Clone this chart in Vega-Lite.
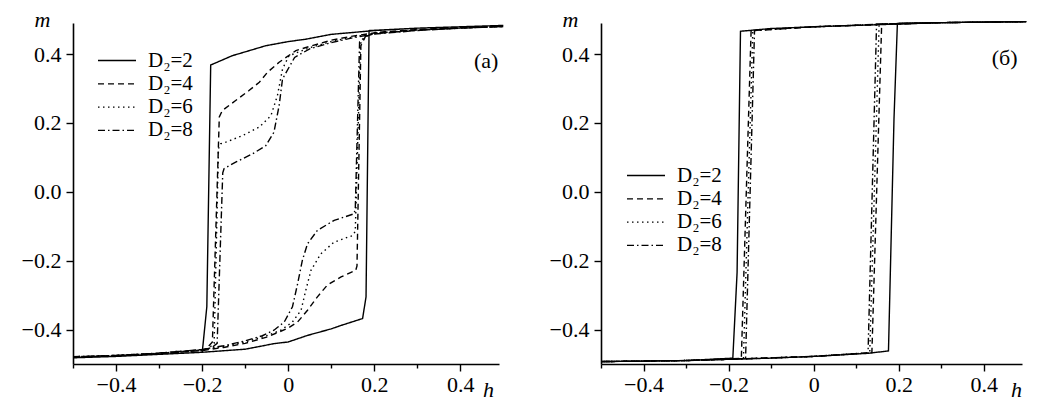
{
  "$schema": "https://vega.github.io/schema/vega-lite/v6.json",
  "background": "white",
  "padding": {"left": 21, "top": 8, "right": 5, "bottom": 5},
  "config": {
    "view": {"stroke": null},
    "font": "Liberation Serif",
    "axis": {
      "domainColor": "black", "domainWidth": 1.6, "tickColor": "black", "tickWidth": 1.4,
      "labelColor": "black", "labelFontSize": 22, "labelFont": "Liberation Serif",
      "titleColor": "black", "titleFont": "Liberation Serif", "titleFontSize": 22,
      "titleFontStyle": "italic", "titleFontWeight": "normal", "grid": false,
      "labelOverlap": false, "labelFlush": false
    },
    "legend": {
      "orient": "none", "title": null, "padding": 0,
      "symbolType": "M-1,0H3", "symbolSize": 361, "symbolStrokeWidth": 1.3,
      "symbolStrokeColor": "black", "labelFontSize": 21, "labelFont": "Liberation Serif",
      "labelColor": "black", "labelOffset": 30, "rowPadding": 1.3
    }
  },
  "datasets": {
    "a": [
      {"s":"D₂=2","i":0,"h":-0.5,"m":-0.482},{"s":"D₂=2","i":1,"h":-0.4,"m":-0.478},{"s":"D₂=2","i":2,"h":-0.3,"m":-0.472},{"s":"D₂=2","i":3,"h":-0.2,"m":-0.466},{"s":"D₂=2","i":4,"h":-0.1,"m":-0.457},{"s":"D₂=2","i":5,"h":-0.033,"m":-0.441},{"s":"D₂=2","i":6,"h":0,"m":-0.436},{"s":"D₂=2","i":7,"h":0.045,"m":-0.417},{"s":"D₂=2","i":8,"h":0.1,"m":-0.398},{"s":"D₂=2","i":9,"h":0.123,"m":-0.388},{"s":"D₂=2","i":10,"h":0.173,"m":-0.368},{"s":"D₂=2","i":11,"h":0.181,"m":-0.305},{"s":"D₂=2","i":12,"h":0.188,"m":0.468},{"s":"D₂=2","i":13,"h":0.3,"m":0.475},{"s":"D₂=2","i":14,"h":0.4,"m":0.479},{"s":"D₂=2","i":15,"h":0.5,"m":0.483},
      {"s":"D₂=2","i":16,"h":0.4,"m":0.479},{"s":"D₂=2","i":17,"h":0.3,"m":0.475},{"s":"D₂=2","i":18,"h":0.2,"m":0.468},{"s":"D₂=2","i":19,"h":0.1,"m":0.457},{"s":"D₂=2","i":20,"h":0.041,"m":0.443},{"s":"D₂=2","i":21,"h":0,"m":0.436},{"s":"D₂=2","i":22,"h":-0.052,"m":0.424},{"s":"D₂=2","i":23,"h":-0.13,"m":0.395},{"s":"D₂=2","i":24,"h":-0.18,"m":0.368},{"s":"D₂=2","i":25,"h":-0.189,"m":-0.334},{"s":"D₂=2","i":26,"h":-0.198,"m":-0.446},{"s":"D₂=2","i":27,"h":-0.2,"m":-0.466},{"s":"D₂=2","i":28,"h":-0.3,"m":-0.472},{"s":"D₂=2","i":29,"h":-0.4,"m":-0.478},{"s":"D₂=2","i":30,"h":-0.5,"m":-0.482},

      {"s":"D₂=4","i":0,"h":-0.5,"m":-0.48},{"s":"D₂=4","i":1,"h":-0.4,"m":-0.476},{"s":"D₂=4","i":2,"h":-0.3,"m":-0.47},{"s":"D₂=4","i":3,"h":-0.2,"m":-0.461},{"s":"D₂=4","i":4,"h":-0.15,"m":-0.452},{"s":"D₂=4","i":5,"h":-0.1,"m":-0.44},{"s":"D₂=4","i":6,"h":-0.05,"m":-0.422},{"s":"D₂=4","i":7,"h":-0.002,"m":-0.397},{"s":"D₂=4","i":8,"h":0.022,"m":-0.378},{"s":"D₂=4","i":9,"h":0.045,"m":-0.344},{"s":"D₂=4","i":10,"h":0.068,"m":-0.305},{"s":"D₂=4","i":11,"h":0.091,"m":-0.271},{"s":"D₂=4","i":12,"h":0.123,"m":-0.247},{"s":"D₂=4","i":13,"h":0.157,"m":-0.228},{"s":"D₂=4","i":14,"h":0.16,"m":-0.215},{"s":"D₂=4","i":15,"h":0.169,"m":0.424},{"s":"D₂=4","i":16,"h":0.18,"m":0.452},{"s":"D₂=4","i":17,"h":0.2,"m":0.462},{"s":"D₂=4","i":18,"h":0.3,"m":0.471},{"s":"D₂=4","i":19,"h":0.4,"m":0.476},{"s":"D₂=4","i":20,"h":0.5,"m":0.48},
      {"s":"D₂=4","i":21,"h":0.4,"m":0.476},{"s":"D₂=4","i":22,"h":0.3,"m":0.47},{"s":"D₂=4","i":23,"h":0.2,"m":0.461},{"s":"D₂=4","i":24,"h":0.15,"m":0.452},{"s":"D₂=4","i":25,"h":0.1,"m":0.44},{"s":"D₂=4","i":26,"h":0.05,"m":0.422},{"s":"D₂=4","i":27,"h":0.018,"m":0.41},{"s":"D₂=4","i":28,"h":-0.021,"m":0.376},{"s":"D₂=4","i":29,"h":-0.048,"m":0.347},{"s":"D₂=4","i":30,"h":-0.067,"m":0.318},{"s":"D₂=4","i":31,"h":-0.091,"m":0.294},{"s":"D₂=4","i":32,"h":-0.122,"m":0.265},{"s":"D₂=4","i":33,"h":-0.153,"m":0.236},{"s":"D₂=4","i":34,"h":-0.16,"m":0.217},{"s":"D₂=4","i":35,"h":-0.176,"m":-0.436},{"s":"D₂=4","i":36,"h":-0.19,"m":-0.455},{"s":"D₂=4","i":37,"h":-0.2,"m":-0.461},{"s":"D₂=4","i":38,"h":-0.3,"m":-0.47},{"s":"D₂=4","i":39,"h":-0.4,"m":-0.476},{"s":"D₂=4","i":40,"h":-0.5,"m":-0.48},

      {"s":"D₂=6","i":0,"h":-0.5,"m":-0.479},{"s":"D₂=6","i":1,"h":-0.4,"m":-0.475},{"s":"D₂=6","i":2,"h":-0.3,"m":-0.469},{"s":"D₂=6","i":3,"h":-0.2,"m":-0.459},{"s":"D₂=6","i":4,"h":-0.15,"m":-0.449},{"s":"D₂=6","i":5,"h":-0.1,"m":-0.436},{"s":"D₂=6","i":6,"h":-0.05,"m":-0.418},{"s":"D₂=6","i":7,"h":-0.017,"m":-0.402},{"s":"D₂=6","i":8,"h":0.01,"m":-0.378},{"s":"D₂=6","i":9,"h":0.03,"m":-0.344},{"s":"D₂=6","i":10,"h":0.041,"m":-0.286},{"s":"D₂=6","i":11,"h":0.053,"m":-0.228},{"s":"D₂=6","i":12,"h":0.076,"m":-0.18},{"s":"D₂=6","i":13,"h":0.107,"m":-0.146},{"s":"D₂=6","i":14,"h":0.15,"m":-0.127},{"s":"D₂=6","i":15,"h":0.156,"m":-0.115},{"s":"D₂=6","i":16,"h":0.168,"m":0.43},{"s":"D₂=6","i":17,"h":0.18,"m":0.451},{"s":"D₂=6","i":18,"h":0.2,"m":0.46},{"s":"D₂=6","i":19,"h":0.3,"m":0.47},{"s":"D₂=6","i":20,"h":0.4,"m":0.476},{"s":"D₂=6","i":21,"h":0.5,"m":0.48},
      {"s":"D₂=6","i":22,"h":0.4,"m":0.475},{"s":"D₂=6","i":23,"h":0.3,"m":0.469},{"s":"D₂=6","i":24,"h":0.2,"m":0.459},{"s":"D₂=6","i":25,"h":0.15,"m":0.449},{"s":"D₂=6","i":26,"h":0.1,"m":0.436},{"s":"D₂=6","i":27,"h":0.05,"m":0.418},{"s":"D₂=6","i":28,"h":0.002,"m":0.395},{"s":"D₂=6","i":29,"h":-0.013,"m":0.357},{"s":"D₂=6","i":30,"h":-0.025,"m":0.279},{"s":"D₂=6","i":31,"h":-0.04,"m":0.221},{"s":"D₂=6","i":32,"h":-0.067,"m":0.188},{"s":"D₂=6","i":33,"h":-0.106,"m":0.163},{"s":"D₂=6","i":34,"h":-0.145,"m":0.144},{"s":"D₂=6","i":35,"h":-0.157,"m":0.139},{"s":"D₂=6","i":36,"h":-0.162,"m":0.125},{"s":"D₂=6","i":37,"h":-0.172,"m":-0.44},{"s":"D₂=6","i":38,"h":-0.185,"m":-0.455},{"s":"D₂=6","i":39,"h":-0.2,"m":-0.459},{"s":"D₂=6","i":40,"h":-0.3,"m":-0.469},{"s":"D₂=6","i":41,"h":-0.4,"m":-0.475},{"s":"D₂=6","i":42,"h":-0.5,"m":-0.479},

      {"s":"D₂=8","i":0,"h":-0.5,"m":-0.479},{"s":"D₂=8","i":1,"h":-0.4,"m":-0.475},{"s":"D₂=8","i":2,"h":-0.3,"m":-0.468},{"s":"D₂=8","i":3,"h":-0.2,"m":-0.458},{"s":"D₂=8","i":4,"h":-0.15,"m":-0.447},{"s":"D₂=8","i":5,"h":-0.1,"m":-0.433},{"s":"D₂=8","i":6,"h":-0.06,"m":-0.418},{"s":"D₂=8","i":7,"h":-0.033,"m":-0.402},{"s":"D₂=8","i":8,"h":-0.009,"m":-0.378},{"s":"D₂=8","i":9,"h":0.01,"m":-0.334},{"s":"D₂=8","i":10,"h":0.022,"m":-0.267},{"s":"D₂=8","i":11,"h":0.033,"m":-0.199},{"s":"D₂=8","i":12,"h":0.045,"m":-0.151},{"s":"D₂=8","i":13,"h":0.068,"m":-0.112},{"s":"D₂=8","i":14,"h":0.107,"m":-0.083},{"s":"D₂=8","i":15,"h":0.153,"m":-0.064},{"s":"D₂=8","i":16,"h":0.156,"m":-0.05},{"s":"D₂=8","i":17,"h":0.166,"m":0.435},{"s":"D₂=8","i":18,"h":0.18,"m":0.451},{"s":"D₂=8","i":19,"h":0.2,"m":0.459},{"s":"D₂=8","i":20,"h":0.3,"m":0.469},{"s":"D₂=8","i":21,"h":0.4,"m":0.475},{"s":"D₂=8","i":22,"h":0.5,"m":0.48},
      {"s":"D₂=8","i":23,"h":0.4,"m":0.475},{"s":"D₂=8","i":24,"h":0.3,"m":0.468},{"s":"D₂=8","i":25,"h":0.2,"m":0.458},{"s":"D₂=8","i":26,"h":0.15,"m":0.447},{"s":"D₂=8","i":27,"h":0.1,"m":0.433},{"s":"D₂=8","i":28,"h":0.05,"m":0.415},{"s":"D₂=8","i":29,"h":0.015,"m":0.39},{"s":"D₂=8","i":30,"h":-0.013,"m":0.328},{"s":"D₂=8","i":31,"h":-0.021,"m":0.25},{"s":"D₂=8","i":32,"h":-0.033,"m":0.173},{"s":"D₂=8","i":33,"h":-0.052,"m":0.134},{"s":"D₂=8","i":34,"h":-0.083,"m":0.11},{"s":"D₂=8","i":35,"h":-0.122,"m":0.086},{"s":"D₂=8","i":36,"h":-0.149,"m":0.067},{"s":"D₂=8","i":37,"h":-0.152,"m":0.055},{"s":"D₂=8","i":38,"h":-0.165,"m":-0.44},{"s":"D₂=8","i":39,"h":-0.178,"m":-0.453},{"s":"D₂=8","i":40,"h":-0.2,"m":-0.458},{"s":"D₂=8","i":41,"h":-0.3,"m":-0.468},{"s":"D₂=8","i":42,"h":-0.4,"m":-0.475},{"s":"D₂=8","i":43,"h":-0.5,"m":-0.479}
    ],
    "b": [
      {"s":"D₂=2","i":0,"h":-0.5,"m":-0.493},{"s":"D₂=2","i":1,"h":-0.3,"m":-0.49},{"s":"D₂=2","i":2,"h":-0.19,"m":-0.486},{"s":"D₂=2","i":3,"h":-0.1,"m":-0.483},{"s":"D₂=2","i":4,"h":0,"m":-0.478},{"s":"D₂=2","i":5,"h":0.128,"m":-0.469},{"s":"D₂=2","i":6,"h":0.176,"m":-0.462},{"s":"D₂=2","i":7,"h":0.189,"m":0.212},{"s":"D₂=2","i":8,"h":0.197,"m":0.489},{"s":"D₂=2","i":9,"h":0.3,"m":0.491},{"s":"D₂=2","i":10,"h":0.5,"m":0.494},
      {"s":"D₂=2","i":11,"h":0.3,"m":0.491},{"s":"D₂=2","i":12,"h":0.197,"m":0.487},{"s":"D₂=2","i":13,"h":0.1,"m":0.483},{"s":"D₂=2","i":14,"h":0,"m":0.479},{"s":"D₂=2","i":15,"h":-0.1,"m":0.474},{"s":"D₂=2","i":16,"h":-0.172,"m":0.466},{"s":"D₂=2","i":17,"h":-0.18,"m":-0.235},{"s":"D₂=2","i":18,"h":-0.19,"m":-0.483},{"s":"D₂=2","i":19,"h":-0.3,"m":-0.49},{"s":"D₂=2","i":20,"h":-0.5,"m":-0.493},

      {"s":"D₂=4","i":0,"h":-0.5,"m":-0.493},{"s":"D₂=4","i":1,"h":-0.3,"m":-0.49},{"s":"D₂=4","i":2,"h":-0.17,"m":-0.485},{"s":"D₂=4","i":3,"h":0,"m":-0.478},{"s":"D₂=4","i":4,"h":0.137,"m":-0.467},{"s":"D₂=4","i":5,"h":0.16,"m":0.487},{"s":"D₂=4","i":6,"h":0.3,"m":0.491},{"s":"D₂=4","i":7,"h":0.5,"m":0.494},
      {"s":"D₂=4","i":8,"h":0.3,"m":0.491},{"s":"D₂=4","i":9,"h":0.16,"m":0.486},{"s":"D₂=4","i":10,"h":0,"m":0.479},{"s":"D₂=4","i":11,"h":-0.147,"m":0.468},{"s":"D₂=4","i":12,"h":-0.17,"m":-0.484},{"s":"D₂=4","i":13,"h":-0.3,"m":-0.49},{"s":"D₂=4","i":14,"h":-0.5,"m":-0.493},

      {"s":"D₂=6","i":0,"h":-0.5,"m":-0.493},{"s":"D₂=6","i":1,"h":-0.3,"m":-0.49},{"s":"D₂=6","i":2,"h":-0.165,"m":-0.485},{"s":"D₂=6","i":3,"h":0,"m":-0.478},{"s":"D₂=6","i":4,"h":0.132,"m":-0.467},{"s":"D₂=6","i":5,"h":0.154,"m":0.487},{"s":"D₂=6","i":6,"h":0.3,"m":0.491},{"s":"D₂=6","i":7,"h":0.5,"m":0.494},
      {"s":"D₂=6","i":8,"h":0.3,"m":0.491},{"s":"D₂=6","i":9,"h":0.154,"m":0.486},{"s":"D₂=6","i":10,"h":0,"m":0.479},{"s":"D₂=6","i":11,"h":-0.143,"m":0.468},{"s":"D₂=6","i":12,"h":-0.165,"m":-0.484},{"s":"D₂=6","i":13,"h":-0.3,"m":-0.49},{"s":"D₂=6","i":14,"h":-0.5,"m":-0.493},

      {"s":"D₂=8","i":0,"h":-0.5,"m":-0.493},{"s":"D₂=8","i":1,"h":-0.3,"m":-0.49},{"s":"D₂=8","i":2,"h":-0.16,"m":-0.485},{"s":"D₂=8","i":3,"h":0,"m":-0.478},{"s":"D₂=8","i":4,"h":0.128,"m":-0.468},{"s":"D₂=8","i":5,"h":0.148,"m":0.487},{"s":"D₂=8","i":6,"h":0.3,"m":0.491},{"s":"D₂=8","i":7,"h":0.5,"m":0.494},
      {"s":"D₂=8","i":8,"h":0.3,"m":0.491},{"s":"D₂=8","i":9,"h":0.148,"m":0.486},{"s":"D₂=8","i":10,"h":0,"m":0.479},{"s":"D₂=8","i":11,"h":-0.139,"m":0.468},{"s":"D₂=8","i":12,"h":-0.16,"m":-0.484},{"s":"D₂=8","i":13,"h":-0.3,"m":-0.49},{"s":"D₂=8","i":14,"h":-0.5,"m":-0.493}
    ],
    "labA": [{"h": 0.46, "m": 0.38, "t": "(a)"}],
    "labB": [{"h": 0.449, "m": 0.388, "t": "(б)"}]
  },
  "bounds": "flush",
  "spacing": 102,
  "resolve": {"legend": {"strokeDash": "independent"}},
  "hconcat": [
    {
      "width": 426, "height": 341,
      "layer": [
        {
          "data": {"name": "a"},
          "mark": {"type": "line", "color": "black", "strokeWidth": 1.4},
          "encoding": {
            "x": {"field": "h", "type": "quantitative", "scale": {"domain": [-0.5, 0.49], "nice": false, "zero": false},
              "axis": {"title": "h", "titleX": 415, "titleY": 32, "titleAlign": "center", "titleBaseline": "alphabetic",
                "values": [-0.5,-0.4,-0.3,-0.2,-0.1,0,0.1,0.2,0.3,0.4,0.5], "format": ".1~f",
                "labelExpr": "abs(round(datum.value*10))%2==0 ? (datum.value < 0 ? datum.label + '\u2002' : datum.label) : ''",
                "tickSize": {"condition": {"test": "abs(round(datum.value*10))%2==0", "value": 7}, "value": 4},
                "labelPadding": 3}},
            "y": {"field": "m", "type": "quantitative", "scale": {"domain": [-0.5, 0.49], "nice": false, "zero": false},
              "axis": {"title": "m", "titleAngle": 0, "titleX": -31, "titleY": 3, "titleAlign": "center", "titleBaseline": "alphabetic",
                "values": [-0.4,-0.2,0,0.2,0.4], "format": ".1f", "tickSize": 7, "labelPadding": 5}},
            "strokeDash": {"field": "s", "type": "nominal",
              "scale": {"domain": ["D₂=2","D₂=4","D₂=6","D₂=8"], "range": [[1,0],[6,4],[1.5,3.5],[7,3,1.5,3]]},
              "legend": {"legendX": 24, "legendY": 27}},
            "order": {"field": "i", "type": "quantitative"}
          }
        },
        {
          "data": {"name": "labA"},
          "mark": {"type": "text", "fontSize": 22, "color": "black", "font": "Liberation Serif"},
          "encoding": {"x": {"field": "h", "type": "quantitative"}, "y": {"field": "m", "type": "quantitative"}, "text": {"field": "t"}}
        }
      ]
    },
    {
      "width": 421, "height": 341,
      "layer": [
        {
          "data": {"name": "b"},
          "mark": {"type": "line", "color": "black", "strokeWidth": 1.4},
          "encoding": {
            "x": {"field": "h", "type": "quantitative", "scale": {"domain": [-0.5, 0.49], "nice": false, "zero": false},
              "axis": {"title": "h", "titleX": 415, "titleY": 32, "titleAlign": "center", "titleBaseline": "alphabetic",
                "values": [-0.5,-0.4,-0.3,-0.2,-0.1,0,0.1,0.2,0.3,0.4,0.5], "format": ".1~f",
                "labelExpr": "abs(round(datum.value*10))%2==0 ? (datum.value < 0 ? datum.label + '\u2002' : datum.label) : ''",
                "tickSize": {"condition": {"test": "abs(round(datum.value*10))%2==0", "value": 7}, "value": 4},
                "labelPadding": 3}},
            "y": {"field": "m", "type": "quantitative", "scale": {"domain": [-0.5, 0.49], "nice": false, "zero": false},
              "axis": {"title": "m", "titleAngle": 0, "titleX": -31, "titleY": 3, "titleAlign": "center", "titleBaseline": "alphabetic",
                "values": [-0.4,-0.2,0,0.2,0.4], "format": ".1f", "tickSize": 7, "labelPadding": 5}},
            "strokeDash": {"field": "s", "type": "nominal",
              "scale": {"domain": ["D₂=2","D₂=4","D₂=6","D₂=8"], "range": [[1,0],[5,4],[1.5,4],[6,3,1.5,3]]},
              "legend": {"legendX": 25, "legendY": 142}},
            "order": {"field": "i", "type": "quantitative"}
          }
        },
        {
          "data": {"name": "labB"},
          "mark": {"type": "text", "fontSize": 22, "color": "black", "font": "Liberation Serif"},
          "encoding": {"x": {"field": "h", "type": "quantitative"}, "y": {"field": "m", "type": "quantitative"}, "text": {"field": "t"}}
        }
      ]
    }
  ]
}
